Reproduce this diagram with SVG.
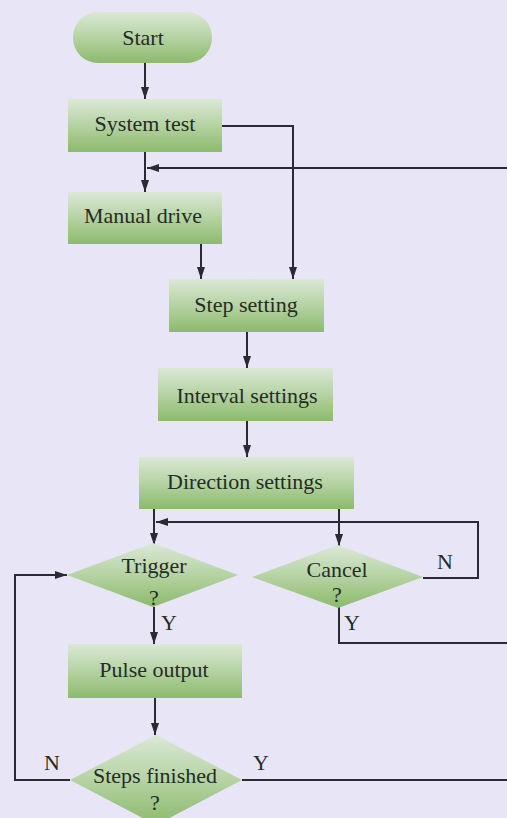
<svg xmlns="http://www.w3.org/2000/svg" width="507" height="818" viewBox="0 0 507 818">
<defs>
<linearGradient id="g" x1="0" y1="0" x2="0" y2="1">
<stop offset="0" stop-color="#dbe8d6"/>
<stop offset="0.45" stop-color="#b9d5a8"/>
<stop offset="1" stop-color="#8cba6c"/>
</linearGradient>
<marker id="ah" viewBox="0 0 12 8" refX="12" refY="4" markerWidth="12" markerHeight="8" markerUnits="userSpaceOnUse" orient="auto">
<path d="M0,0 L12,4 L0,8 Z" fill="#2a2a32"/>
</marker>
<style>
.n{fill:url(#g);stroke:none}
.t{font-family:"Liberation Serif","Times New Roman",serif;font-size:22px;fill:#252c26;text-anchor:middle}
.c{fill:none;stroke:#2a2a32;stroke-width:2}
.a{marker-end:url(#ah)}
</style>
</defs>
<rect width="507" height="818" fill="#e8e6f6"/>
<g id="connectors">
<path class="c a" d="M145,63 V99"/>
<path class="c a" d="M222,126 H293 V279"/>
<path class="c a" d="M145,152 V192"/>
<path class="c a" d="M507,168 H147"/>
<path class="c a" d="M201,244 V279"/>
<path class="c a" d="M247,332 V368"/>
<path class="c a" d="M247,421 V457"/>
<path class="c a" d="M154,509 V545"/>
<path class="c a" d="M339,509 V546"/>
<path class="c a" d="M423,578 H478 V522 H156"/>
<path class="c" d="M339,607 V643 H507"/>
<path class="c a" d="M154,607 V644"/>
<path class="c a" d="M155,698 V735"/>
<path class="c a" d="M70,780 H15 V575 H67"/>
<path class="c" d="M242,780 H507"/>
</g>
<g id="start"><rect class="n" x="73" y="12" width="139" height="51" rx="25"/><text class="t" x="143" y="45">Start</text></g>
<g id="system-test"><rect class="n" x="68" y="99" width="154" height="53"/><text class="t" x="145" y="131">System test</text></g>
<g id="manual-drive"><rect class="n" x="68" y="192" width="154" height="52"/><text class="t" x="143" y="223">Manual drive</text></g>
<g id="step-setting"><rect class="n" x="169" y="279" width="155" height="53"/><text class="t" x="246" y="312">Step setting</text></g>
<g id="interval-settings"><rect class="n" x="158" y="368" width="175" height="53"/><text class="t" x="247" y="403">Interval settings</text></g>
<g id="direction-settings"><rect class="n" x="139" y="457" width="215" height="52"/><text class="t" x="245" y="489">Direction settings</text></g>
<g id="trigger"><polygon class="n" points="67,575 153,543 238,575 153,607"/><text class="t" x="154" y="573">Trigger</text><text class="t" x="154" y="605">?</text></g>
<g id="cancel"><polygon class="n" points="252,577 338,545 423,577 338,608"/><text class="t" x="337" y="577">Cancel</text><text class="t" x="337" y="602">?</text></g>
<g id="pulse-output"><rect class="n" x="68" y="644" width="174" height="54"/><text class="t" x="154" y="677">Pulse output</text></g>
<g id="steps-finished"><polygon class="n" points="70,780 156,735 242,780 156,825"/><text class="t" x="155" y="783">Steps finished</text><text class="t" x="155" y="810">?</text></g>
<g id="labels">
<text class="t" x="445" y="569">N</text>
<text class="t" x="169" y="630">Y</text>
<text class="t" x="352" y="630">Y</text>
<text class="t" x="52" y="770">N</text>
<text class="t" x="261" y="770">Y</text>
</g>
</svg>
